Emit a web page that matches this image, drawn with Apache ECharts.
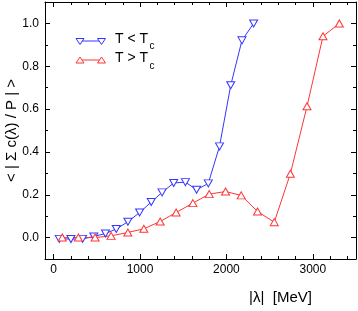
<!DOCTYPE html>
<html>
<head>
<meta charset="utf-8">
<script src="https://cdn.jsdelivr.net/npm/echarts@6/dist/echarts.min.js"></script>
<style>html,body{margin:0;padding:0;background:#fff}#c{width:358px;height:311px}</style>
</head>
<body>
<div id="c"></div>
<script>
// Data
var blueX = [65, 200, 335, 465, 600, 725, 860, 995, 1130, 1255, 1390, 1525, 1655, 1790, 1920, 2050, 2180, 2315];
var blueY = [-0.006, -0.007, -0.006, 0.005, 0.019, 0.040, 0.074, 0.117, 0.166, 0.211, 0.255, 0.259, 0.223, 0.253, 0.426, 0.711, 0.921, 1.0];
var redX = [100, 286, 480, 665, 859, 1044, 1233, 1418, 1612, 1801, 1990, 2171, 2360, 2554, 2740, 2933, 3118, 3307];
var redY = [0.0, 0.0, 0.0, 0.008, 0.024, 0.041, 0.075, 0.117, 0.161, 0.203, 0.215, 0.197, 0.122, 0.072, 0.298, 0.613, 0.940, 1.0];
var xMajor = [0, 1000, 2000, 3000];
var xMinor = [0, 200, 400, 600, 800, 1000, 1200, 1400, 1600, 1800, 2000, 2200, 2400, 2600, 2800, 3000, 3200, 3400];
var yMajor = [0, 0.2, 0.4, 0.6, 0.8, 1.0];
var yMinor = [-0.1, 0, 0.1, 0.2, 0.3, 0.4, 0.5, 0.6, 0.7, 0.8, 0.9, 1.0, 1.1];
var blueName = 'T < Tc';
var redName = 'T > Tc';

var BLUE = '#3535ff', RED = '#ff3535';
var FONT = 'Liberation Sans';

function pair(xs, ys) { return xs.map(function (x, i) { return [x, ys[i]]; }); }

function xAx(pos, major, showLabel) {
  return {
    type: 'value', position: pos, min: -100, max: 3500,
    axisLine: { show: major, onZero: false, lineStyle: { color: '#000', width: 1 } },
    splitLine: { show: false },
    axisTick: { show: true, inside: true, length: major ? 5 : 3, customValues: major ? xMajor : xMinor, lineStyle: { color: '#000' } },
    axisLabel: { show: showLabel, customValues: xMajor, color: '#000', fontFamily: FONT, fontSize: 12, margin: 5,
      formatter: function (v) { return String(v); } },
    name: showLabel ? '|\u03bb|  [MeV]' : '',
    nameLocation: 'middle', nameGap: 31, nameMoveOverlap: false,
    nameTextStyle: { color: '#000', fontFamily: FONT, fontSize: 15, padding: [0, 0, 0, 160] }
  };
}
function yAx(pos, major, showLabel) {
  return {
    type: 'value', position: pos, min: -0.1, max: 1.1,
    axisLine: { show: major, onZero: false, lineStyle: { color: '#000', width: 1 } },
    splitLine: { show: false },
    axisTick: { show: true, inside: true, length: major ? 5 : 3, customValues: major ? yMajor : yMinor, lineStyle: { color: '#000' } },
    axisLabel: { show: showLabel, customValues: yMajor, color: '#000', fontFamily: FONT, fontSize: 12, margin: 6,
      formatter: function (v) { return v.toFixed(1); } },
    name: showLabel ? '< | \u03a3 c(\u03bb) / P | >' : '',
    nameLocation: 'middle', nameGap: 26, nameRotate: 90, nameMoveOverlap: false,
    nameTextStyle: { color: '#000', fontFamily: FONT, fontSize: 15 }
  };
}

var chart = echarts.init(document.getElementById('c'));
chart.setOption({
  animation: false,
  backgroundColor: '#fff',
  grid: { left: 45, right: 2, top: 2, bottom: 52, containLabel: false, outerBoundsMode: 'none' },
  xAxis: [xAx('bottom', true, true), xAx('bottom', false, false), xAx('top', true, false), xAx('top', false, false)],
  yAxis: [yAx('left', true, true), yAx('left', false, false), yAx('right', true, false), yAx('right', false, false)],
  series: [
    { name: blueName, type: 'line', data: pair(blueX, blueY), symbol: 'triangle', symbolRotate: 180, symbolSize: [8, 7],
      lineStyle: { color: BLUE, width: 1 }, itemStyle: { color: '#fff', borderColor: BLUE, borderWidth: 1 } },
    { name: redName, type: 'line', data: pair(redX, redY), symbol: 'triangle', symbolSize: [8, 7],
      lineStyle: { color: RED, width: 1 }, itemStyle: { color: '#fff', borderColor: RED, borderWidth: 1 } }
  ],
  graphic: [
    { type: 'line', shape: { x1: 80, y1: 41, x2: 101.5, y2: 41 }, style: { stroke: BLUE, lineWidth: 1 } },
    { type: 'polygon', shape: { points: [[76, 38.5], [84, 38.5], [80, 44.5]] }, style: { fill: '#fff', stroke: BLUE, lineWidth: 1 } },
    { type: 'polygon', shape: { points: [[97.5, 38.5], [105.5, 38.5], [101.5, 44.5]] }, style: { fill: '#fff', stroke: BLUE, lineWidth: 1 } },
    { type: 'text', left: 115, top: 32, style: { text: 'T < T', fill: '#000', font: '14px "Liberation Sans"' } },
    { type: 'text', left: 149.5, top: 41, style: { text: 'c', fill: '#000', font: '10px "Liberation Sans"' } },
    { type: 'line', shape: { x1: 80, y1: 60, x2: 101.5, y2: 60 }, style: { stroke: RED, lineWidth: 1 } },
    { type: 'polygon', shape: { points: [[76, 63], [84, 63], [80, 57]] }, style: { fill: '#fff', stroke: RED, lineWidth: 1 } },
    { type: 'polygon', shape: { points: [[97.5, 63], [105.5, 63], [101.5, 57]] }, style: { fill: '#fff', stroke: RED, lineWidth: 1 } },
    { type: 'text', left: 115, top: 51.5, style: { text: 'T > T', fill: '#000', font: '14px "Liberation Sans"' } },
    { type: 'text', left: 149.5, top: 61, style: { text: 'c', fill: '#000', font: '10px "Liberation Sans"' } }
  ]
});
</script>
</body>
</html>
